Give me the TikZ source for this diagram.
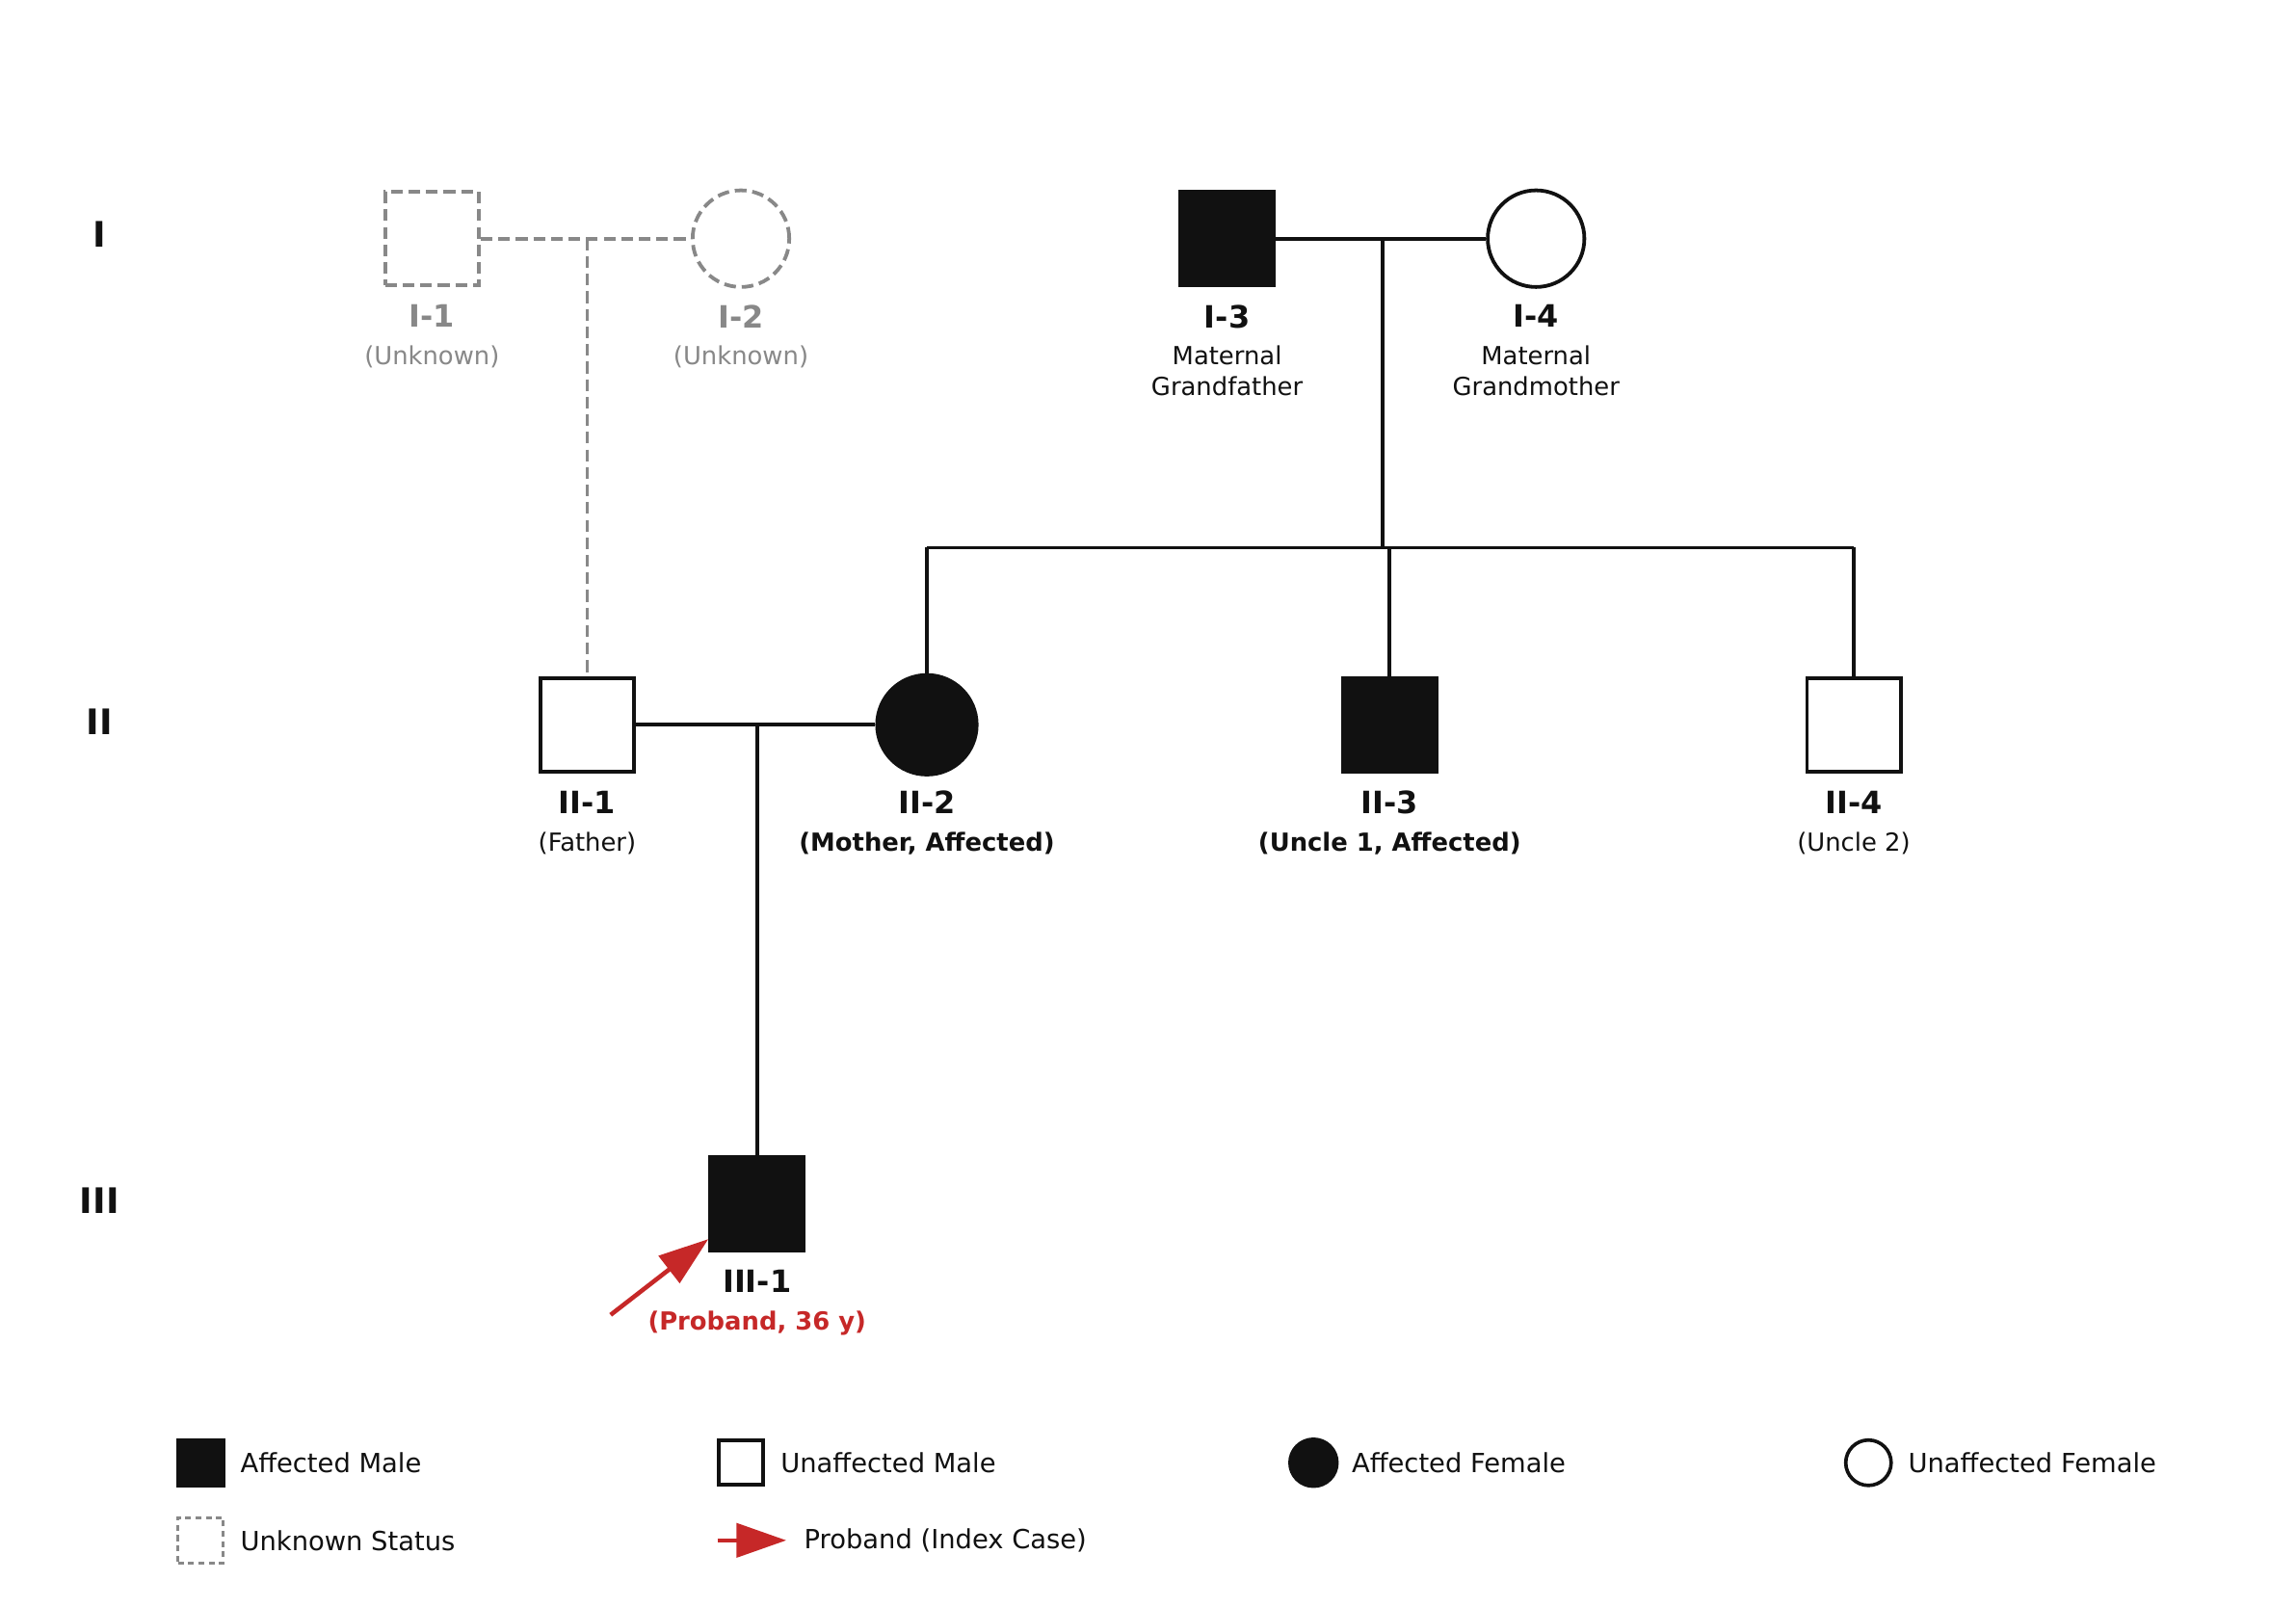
\documentclass[tikz,border=0pt]{standalone}
\usepackage{fontspec}
\setmainfont{DejaVu Sans}
\usetikzlibrary{arrows.meta}
\definecolor{ink}{HTML}{111111}
\definecolor{unk}{HTML}{888888}
\definecolor{prob}{HTML}{C62828}
\begin{document}
\begin{tikzpicture}[x=1pt,y=-1pt,
  person/.style={draw=ink, line width=2.5pt, inner sep=0pt},
  male/.style={person, rectangle, minimum size=64pt},
  female/.style={person, circle, minimum size=66pt},
  aff/.style={fill=ink},
  unaff/.style={fill=white},
  unkn/.style={draw=unk, line width=2.5pt, dash pattern=on 8pt off 4pt},
  rel/.style={draw=ink, line width=2.4pt},
  relunk/.style={draw=unk, line width=2.5pt, dash pattern=on 8pt off 4pt},
  gen/.style={font=\fontsize{24}{28}\selectfont\bfseries, text=ink, inner sep=0pt},
  idlbl/.style={font=\fontsize{21}{25}\selectfont\bfseries, text=ink, anchor=north, inner sep=0pt},
  sub/.style={font=\fontsize{17}{21}\selectfont, text=ink, align=center, anchor=north, inner sep=0pt},
  subb/.style={sub, font=\fontsize{17}{21}\selectfont\bfseries},
  legtxt/.style={font=\fontsize{18}{22}\selectfont, text=ink, anchor=west, inner sep=0pt},
  probarrow/.style={draw=prob, line width=3pt, -{Triangle[length=34pt,width=23pt]}, color=prob},
]
\fill[white] (0,0) rectangle (1568,1097);
\useasboundingbox (0,0) rectangle (1568,1097);

% generation labels
\node[gen] (g1) at (68,160) {I};
\node[gen] (g2) at (68,493) {II};
\node[gen] (g3) at (68,820) {III};

% generation I
\node[male, unaff, unkn] (I1) at (295,163) {};
\node[female, unaff, unkn] (I2) at (506,163) {};
\node[male, aff] (I3) at (838,163) {};
\node[female, unaff] (I4) at (1049,163) {};

% generation II
\node[male, unaff] (II1) at (401,495) {};
\node[female, aff, minimum size=68pt] (II2) at (633,495) {};
\node[male, aff] (II3) at (949,495) {};
\node[male, unaff] (II4) at (1266,495) {};

% generation III
\node[male, aff] (III1) at (517,822) {};

% coordinates
\coordinate (m1) at (401,163);
\coordinate (m2) at (944,163);
\coordinate (m3) at (517,495);
\coordinate (sibL) at (633,374);
\coordinate (sibR) at (1266,374);
\coordinate (pa) at (417,898);

% connectors
\draw[relunk] (I1.east) -- (I2.west);
\draw[relunk] (m1) -- (II1.north);
\draw[rel] (I3.east) -- (I4.west);
\draw[rel] (m2) -- (m2 |- sibL);
\draw[rel] (sibL) -- (sibR);
\draw[rel] (sibL) -- (II2.north);
\draw[rel] (II3 |- sibL) -- (II3.north);
\draw[rel] (sibR) -- (II4.north);
\draw[rel] (II1.east) -- (II2.west);
\draw[rel] (m3) -- (III1.north);
\draw[probarrow] (pa) -- ([yshift=9pt]III1.south west);

% labels
\node[idlbl, text=unk] (lI1) at (295,208) {I-1};
\node[sub, text=unk] (sI1) at (295,236) {(Unknown)};
\node[idlbl, text=unk] (lI2) at (506,208) {I-2};
\node[sub, text=unk] (sI2) at (506,236) {(Unknown)};
\node[idlbl] (lI3) at (838,208) {I-3};
\node[sub] (sI3) at (838,236) {Maternal\\Grandfather};
\node[idlbl] (lI4) at (1049,208) {I-4};
\node[sub] (sI4) at (1049,236) {Maternal\\Grandmother};

\node[idlbl] (lII1) at (401,540) {II-1};
\node[sub] (sII1) at (401,568) {(Father)};
\node[idlbl] (lII2) at (633,540) {II-2};
\node[subb] (sII2) at (633,568) {(Mother, Affected)};
\node[idlbl] (lII3) at (949,540) {II-3};
\node[subb] (sII3) at (949,568) {(Uncle 1, Affected)};
\node[idlbl] (lII4) at (1266,540) {II-4};
\node[sub] (sII4) at (1266,568) {(Uncle 2)};

\node[idlbl] (lIII1) at (517,867) {III-1};
\node[subb, text=prob] (sIII1) at (517,895) {(Proband, 36 y)};

% legend
\node[draw=ink, fill=ink, line width=1.5pt, minimum size=32pt, inner sep=0pt] (lg1) at (137,999) {};
\node[legtxt] (lt1) at (164,999) {Affected Male};
\node[draw=ink, fill=white, line width=2.6pt, minimum size=30pt, inner sep=0pt] (lg2) at (506,999) {};
\node[legtxt] (lt2) at (533,999) {Unaffected Male};
\node[draw=ink, fill=ink, circle, line width=1.5pt, minimum size=33pt, inner sep=0pt] (lg3) at (897,999) {};
\node[legtxt] (lt3) at (923,999) {Affected Female};
\node[draw=ink, fill=white, circle, line width=2.4pt, minimum size=31pt, inner sep=0pt] (lg4) at (1276,999) {};
\node[legtxt] (lt4) at (1303,999) {Unaffected Female};
\node[draw=unk, line width=2pt, dash pattern=on 4pt off 3pt, minimum size=31pt, inner sep=0pt] (lg5) at (137,1052) {};
\node[legtxt] (lt5) at (164,1052) {Unknown Status};
\coordinate (la1) at (490,1052);
\coordinate (la2) at (537,1052);
\draw[probarrow] (la1) -- (la2);
\node[legtxt] (lt6) at (549,1052) {Proband (Index Case)};
\end{tikzpicture}
\end{document}
